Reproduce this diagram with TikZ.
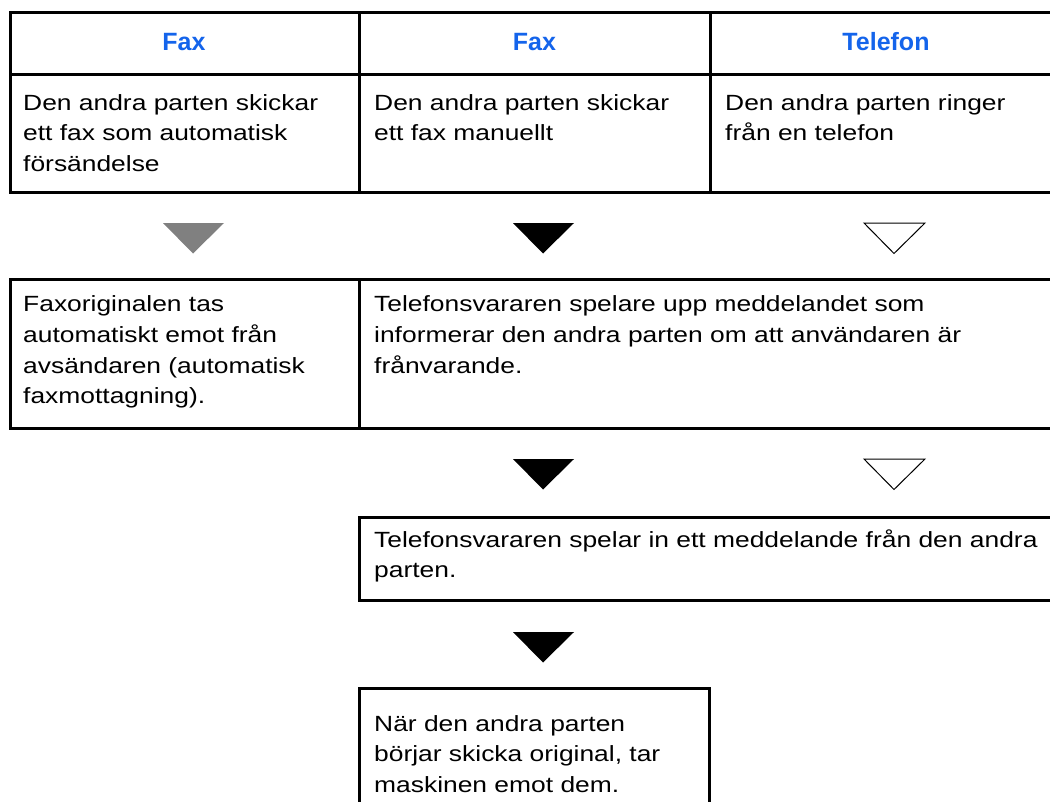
\documentclass[tikz,border=0pt]{standalone}
\usepackage{fontspec}
\setmainfont{Liberation Sans}
\newfontfamily\bodyfont{Liberation Sans}[FakeStretch=1.2]
\usepackage{xcolor}
\usepackage{tikz}
\definecolor{headblue}{RGB}{20,100,235}
\definecolor{trigrey}{RGB}{128,128,128}

\begin{document}
\begin{tikzpicture}[x=1pt,y=-1pt,
  rule/.style={line width=3pt},
  head/.style={anchor=base,inner sep=0pt,text=headblue,font=\bfseries\fontsize{25}{30}\selectfont},
  body/.style={anchor=base west,align=left,inner sep=0pt,font=\bodyfont\fontsize{22}{30.8}\selectfont},
  tri grey/.style={fill=trigrey},
  tri full/.style={fill=black},
  tri open/.style={draw=black,fill=white,line width=1pt}]
\useasboundingbox (0,0) rectangle (1050,801);
\clip (0,0) rectangle (1050,801);

% nodes sit on the baseline of their last line
\draw[rule] (1070,12.5) -- (10.5,12.5) -- (10.5,192) -- (1070,192);
\draw[rule] (10.5,74.7) -- (1070,74.7);
\draw[rule] (359,12.5) -- (359,192);
\draw[rule] (710,12.5) -- (710,192);
\node at (184,50) (fax1)[head]{Fax};
\node at (534.5,50) (fax2)[head]{Fax};
\node at (886,50) (tel)[head]{Telefon};
\node at (23,171.6) (auto)[body]{Den andra parten skickar\\ett fax som automatisk\\försändelse};
\node at (374,140.8) (manual)[body]{Den andra parten skickar\\ett fax manuellt};
\node at (725,140.8) (ring)[body]{Den andra parten ringer\\från en telefon};

\draw[rule] (1070,279) -- (10.5,279) -- (10.5,428.7) -- (1070,428.7);
\draw[rule] (359,279) -- (359,428.7);
\node at (23,403.9) (receive)[body]{Faxoriginalen tas\\automatiskt emot från\\avsändaren (automatisk\\faxmottagning).};
\node at (374,373.1) (greeting)[body]{Telefonsvararen spelare upp meddelandet som\\informerar den andra parten om att användaren är\\frånvarande.};

\draw[rule] (1070,517) -- (359,517) -- (359,600) -- (1070,600);
\node at (374,577.8) (record)[body]{Telefonsvararen spelar in ett meddelande från den andra\\parten.};

\draw[rule] (359,820) -- (359,688.5) -- (709.5,688.5) -- (709.5,820);
\node at (374,792.6) (original)[body]{När den andra parten\\börjar skicka original, tar\\maskinen emot dem.};

\foreach \cx/\ty/\kind in {193/223/tri grey, 543/223/tri full, 894/223/tri open,
                           543/459/tri full, 894/459/tri open, 543/632/tri full}
  \path[\kind] (\cx-30,\ty) -- (\cx+31,\ty) -- (\cx,\ty+30.5) -- cycle;
\end{tikzpicture}
\end{document}
